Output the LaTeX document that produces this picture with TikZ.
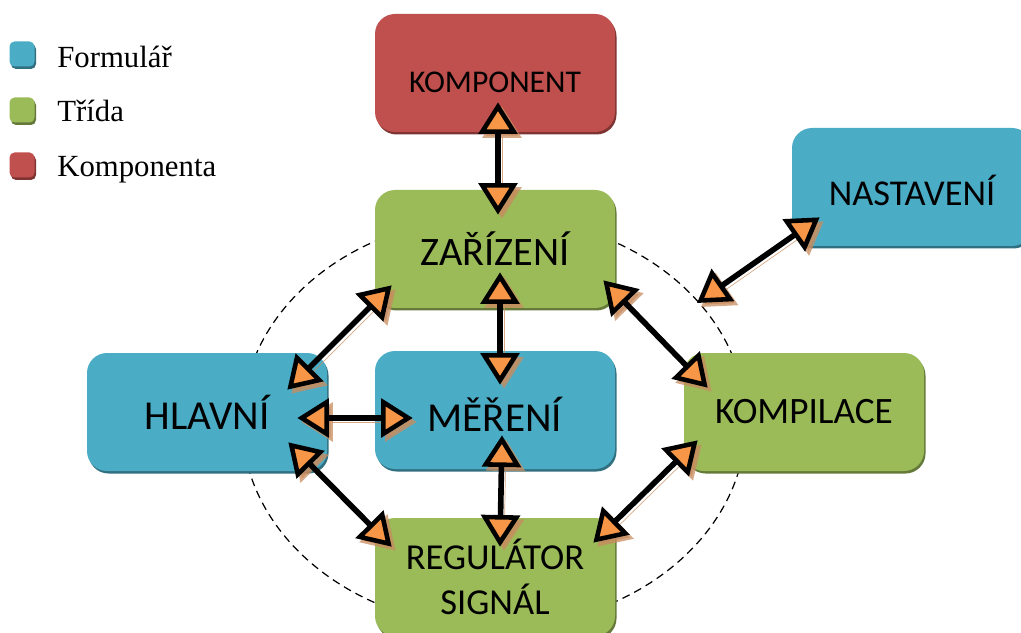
\documentclass[tikz,border=0pt]{standalone}
\usepackage{fontspec}
\setmainfont{Liberation Serif}
\newfontfamily\boxfont{Carlito}
\usepackage{tikz}
\usepackage{xcolor}
\definecolor{formblue}{RGB}{75,172,198}
\definecolor{classgreen}{RGB}{155,187,89}
\definecolor{compred}{RGB}{192,80,77}
\definecolor{tipfill}{RGB}{247,150,70}
\definecolor{shadetan}{RGB}{200,140,95}
\usetikzlibrary{arrows.meta,calc}
\tikzset{tri/.tip={Triangle[length=18pt,width=22pt,line width=2.6pt,fill=tipfill]},
  trishade/.tip={Triangle[length=18pt,width=22pt,line width=2.6pt,fill=shadetan]}}

\begin{document}
\begin{tikzpicture}[box/.style={rounded corners=0.4cm,minimum width=4.8cm,minimum height=2.36cm,font=\boxfont},
    txt/.style={font=\boxfont\fontsize{#1}{#1}\selectfont},
    formbox/.style={box,fill=formblue,preaction={fill=formblue!65!black,transform canvas={shift={(0.03,-0.05)}}}},
    classbox/.style={box,fill=classgreen,preaction={fill=classgreen!65!black,transform canvas={shift={(0.03,-0.05)}}}},
    compbox/.style={box,fill=compred,preaction={fill=compred!65!black,transform canvas={shift={(0.03,-0.05)}}}},
    leg/.style={minimum width=0.5cm,minimum height=0.5cm,rounded corners=0.1cm},
    legtext/.style={anchor=base west,inner sep=0pt,font=\fontsize{17.5}{20}\selectfont},
    link/.style={line width=3.2pt,arrows={tri-tri},preaction={draw=shadetan,opacity=0.75,arrows={trishade-trishade},transform canvas={shift={(0.08,-0.08)}}}},
    ring/.style={dash pattern=on 4.5pt off 3pt,line width=0.7pt}]
    \useasboundingbox (0,0) rectangle (20.42,12.64);
    \coordinate (hub) at (9.88,4.2);
    \coordinate (ringpt) at (13.94,6.58);
    \draw[ring] (hub) ellipse [x radius=5.04, y radius=4.1];
    \node[formbox,leg] (lform) at (0.44,11.56) {};
    \node[classbox,leg] (lclass) at (0.44,10.44) {};
    \node[compbox,leg] (lcomp) at (0.44,9.34) {};
    \node[legtext] (lformtxt) at (1.14,11.28) {Formulář};
    \node[legtext] (lclasstxt) at (1.14,10.2) {Třída};
    \node[legtext] (lcomptxt) at (1.14,9.1) {Komponenta};
    \node[compbox,txt=18,text height=0.8cm] (komp) at (9.9,11.18) {KOMPONENT};
    \node[classbox,txt=23] (zar) at (9.9,7.66) {ZAŘÍZENÍ};
    \node[formbox,txt=20.7,text height=0.75cm] (nast) at (18.24,8.9) {NASTAVENÍ};
    \node[formbox,txt=23.4] (hlav) at (4.14,4.4) {HLAVNÍ};
    \node[formbox,txt=23.4,text height=0.85cm] (mer) at (9.9,4.44) {MĚŘENÍ};
    \node[classbox,txt=21.2] (kompil) at (16.08,4.4) {KOMPILACE};
    \node[classbox,align=center,font=\boxfont\fontsize{20.8}{25.5}\selectfont] (reg) at (9.9,1.1) {REGULÁTOR\\SIGNÁL};
    \draw[link] ([shift={(0.06,0.6)}]komp.south) -- ([shift={(0.06,-0.5)}]zar.north);
    \draw[link] ([shift={(0.1,0.72)}]zar.south) -- ([shift={(0.1,-0.68)}]mer.north);
    \draw[link] ([shift={(0.14,0.68)}]mer.south) -- ([shift={(0.1,-0.58)}]reg.north);
    \draw[link] ([shift={(-0.6,-0.12)}]hlav.east) -- ([shift={(0.76,-0.16)}]mer.west);
    \draw[link] ([shift={(0.34,0.46)}]zar.south west) -- ([shift={(-0.8,-0.74)}]hlav.north east);
    \draw[link] ([shift={(-0.78,0.58)}]hlav.south east) -- ([shift={(0.34,-0.58)}]reg.north west);
    \draw[link] ([shift={(-0.24,0.56)}]zar.south east) -- ([shift={(0.48,-0.7)}]kompil.north west);
    \draw[link] ([shift={(0.28,0.62)}]kompil.south west) -- ([shift={(-0.44,-0.5)}]reg.north east);
    \draw[link] ([shift={(0.56,0.58)}]nast.south west) -- (ringpt);
\end{tikzpicture}
\end{document}
